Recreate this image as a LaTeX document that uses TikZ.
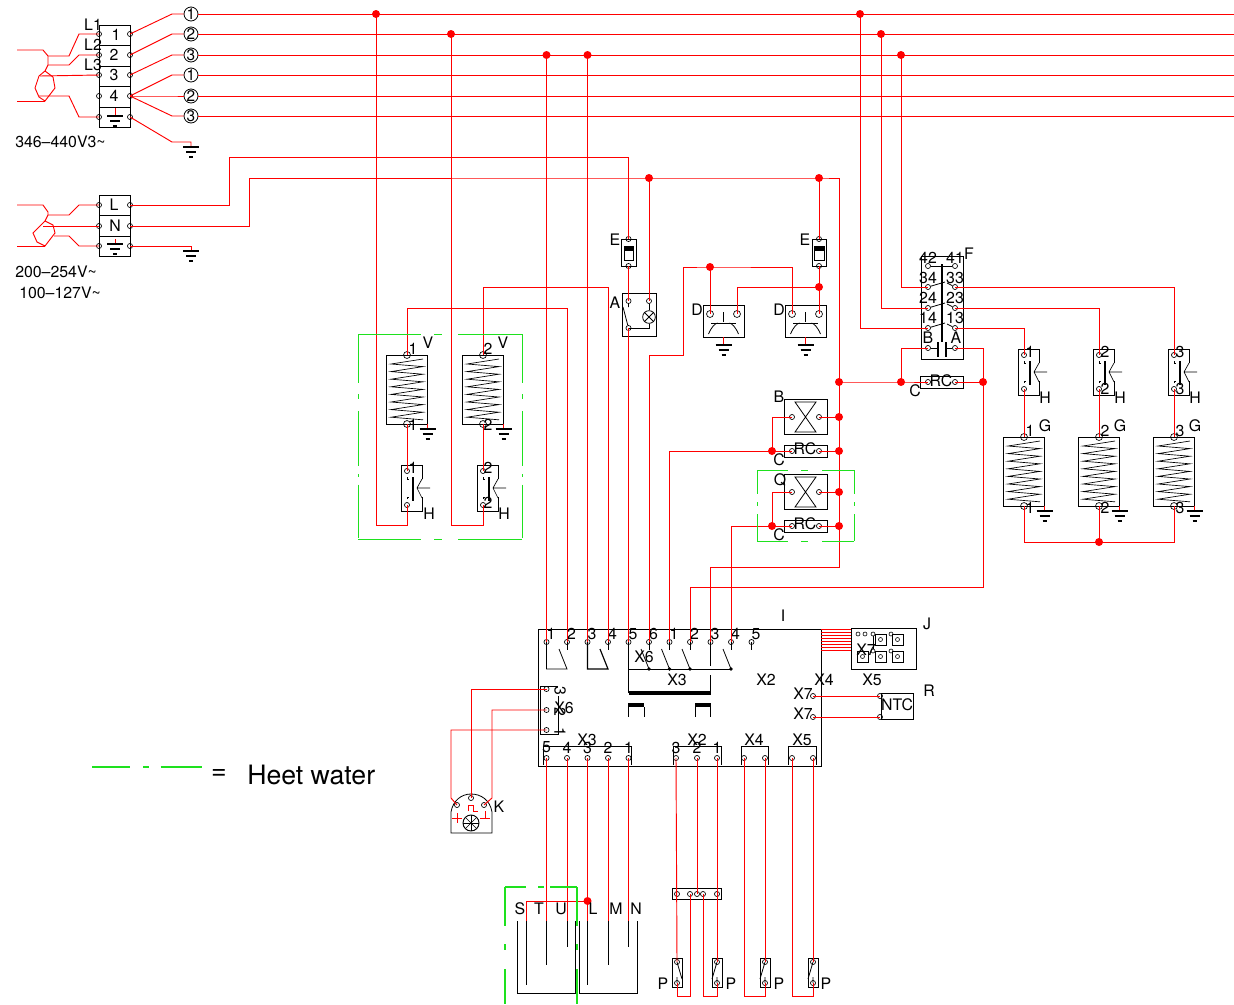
\documentclass[tikz,border=0pt]{standalone}
\usepackage{fontspec}
\setmainfont{TeX Gyre Heros}
\definecolor{greenwire}{RGB}{30,225,30}

\tikzset{
    wire/.style={red, line width=0.7pt},
    greenline/.style={draw=greenwire, line width=0.75pt},
    greenheavy/.style={draw=greenwire, line width=0.8pt},
    lbl/.style={inner sep=0pt, font=\fontsize{11.9}{13}\selectfont},
    termpin/.style={circle, draw, line width=0.5pt, inner sep=0pt, minimum size=3.8pt},
    bigpin/.style={circle, draw, line width=0.5pt, inner sep=0pt, minimum size=5.2pt},
    junct/.style={circle, fill=red, inner sep=0pt, minimum size=6pt},
    phase/.style={circle, draw, line width=0.6pt, inner sep=0pt, minimum size=10.5pt, font=\fontsize{11.5}{12}\selectfont},
    earth/.pic={
        \draw[line width=0.9pt] (-8,0) -- (8,0) (-5,5) -- (5,5) (-2,10) -- (2,10);
    },
    coil/.pic={
        \node[bigpin] (-top) at (0,0) {};
        \node[bigpin] (-bot) at (0,69) {};
        \draw[line width=0.6pt] (-20.5,0) rectangle (20.5,69);
        \draw[line width=0.5pt] (16,4) \foreach \k in {0,...,7} { -- (-16,{4+7.6*\k+5}) -- (16,{4+7.6*\k+7.6}) };
        \draw[wire] (20.5,69) -- (20.5,74);
        \pic at (20.5,74) {earth};
    },
    hcontact/.pic={
        \node[termpin] (-top) at (0,0) {};
        \node[termpin] (-bot) at (0,34) {};
        \draw[line width=0.6pt] (15.5,8) -- (15.5,-6) -- (-5.5,-6) -- (-5.5,40) -- (15.5,40) -- (15.5,26);
        \draw[line width=1.6pt] (6,6) -- (6,30);
        \draw[line width=0.5pt] (0,6) -- (0,8) -- (2,8) (0,28) -- (0,26) -- (2,26);
        \draw[line width=0.5pt] (15,8) -- (10,17) -- (15,27) (10,17) -- (23,17);
    },
    fuse/.pic={
        \node[termpin] (-top) at (0,0) {};
        \node[termpin] (-bot) at (0,27) {};
        \draw[line width=0.6pt] (-7,0) rectangle (7.5,27);
        \draw[line width=0.6pt] (-4.5,7) rectangle (5,21);
        \fill (-4.5,7) rectangle (5,12);
    },
    bell/.pic={
        \node[bigpin] (-lft) at (-13.5,9) {};
        \node[bigpin] (-rgt) at (13.5,9) {};
        \draw[line width=0.6pt] (-20.5,0) rectangle (20.5,32);
        \draw[line width=0.6pt] (0,7) -- (0,17) (-12.5,18) -- (12.5,18);
        \draw[line width=0.6pt] (-15,29) .. controls (-12,22) and (-9,19) .. (-6,18) (15,29) .. controls (12,22) and (9,19) .. (6,18);
        \draw[wire] (0,32) -- (0,40);
        \pic at (0,40) {earth};
    },
    hourglass/.pic={
        \node[termpin] (-lft) at (-13.5,0) {};
        \node[termpin] (-rgt) at (13.5,0) {};
        \draw[line width=0.6pt] (-21.5,-17.5) rectangle (21.5,17.5);
        \draw[line width=0.6pt] (-10.5,-15) -- (10.5,-15) -- (-10.5,15) -- (10.5,15) -- cycle;
    },
    rcbox/.pic={
        \node[termpin] (-lft) at (-13.5,0) {};
        \node[termpin] (-rgt) at (13.5,0) {};
        \draw[line width=0.6pt] (-21.5,-6) rectangle (21.5,6);
    },
    pswitch/.pic={
        \node[termpin] (-top) at (0,0) {};
        \node[termpin] (-bot) at (0,21) {};
        \draw[line width=0.6pt] (-5,-4) rectangle (5,25);
        \draw[line width=0.6pt] (0,0) -- (5,17) (0,21) -- (0,15);
    },
}

\begin{document}
\begin{tikzpicture}[x=0.75pt, y=-0.75pt]
\useasboundingbox (0,0) rectangle (1234,1004);

% mains blocks
\draw[line width=0.6pt] (99,25) rectangle (130,127);
\foreach \py in {45.5,66,86,107} {
    \draw[line width=0.6pt] (99,\py) -- (130,\py);
}
\draw[line width=0.6pt] (99,195) rectangle (130,256);
\foreach \py in {215.5,236} {
    \draw[line width=0.6pt] (99,\py) -- (130,\py);
}
\foreach \k/\py in {1/34,2/55,3/75,4/96,5/117} {
    \node[termpin] (tL\k) at (99,\py) {};
    \node[termpin] (tR\k) at (130,\py) {};
}
\foreach \k/\py in {1/205,2/226,3/246} {
    \node[termpin] (uL\k) at (99,\py) {};
    \node[termpin] (uR\k) at (130,\py) {};
}
\foreach \k/\py/\txt in {1/14/1,2/34/2,3/55/3,4/75/1,5/96/2,6/116/3} {
    \node[phase] (ph\k) at (191,\py) {\txt};
    \coordinate (end\k) at (1234,\py);
    \draw[wire] (ph\k) -- (end\k);
}
\draw[wire] (tR1.center) -- (172,14) -- (ph1);
\draw[wire] (tR2.center) -- (172,34) -- (ph2);
\draw[wire] (tR3.center) -- (172,55) -- (ph3);
\draw[wire] (tR4.center) -- (172,75) -- (ph4);
\draw[wire] (tR4.center) -- (172,96) -- (ph5);
\draw[wire] (tR4.center) -- (172,116) -- (ph6);

\coordinate (gndA) at (191,147);
\coordinate (gndB) at (191,251);
\coordinate (gndC) at (115,116);
\coordinate (gndD) at (115,244);
\draw[wire] (tR5.center) -- (172,142) -- (191,142) -- (gndA);
\draw[wire] (uR3.center) -- (191,246) -- (gndB);
\draw[wire] (115,108) -- (gndC);
\draw[wire] (115,239) -- (gndD);
\foreach \g in {gndA,gndB,gndC,gndD} {
    \pic at (\g) {earth};
}

% feed on the left
\coordinate (inA) at (17,50);
\coordinate (inB) at (17,101);
\coordinate (inC) at (17,205);
\coordinate (inD) at (17,246);
\draw[wire] (inA) -- (43,50) -- (48,56) -- (48,65) -- (45,71) -- (53,77) -- (55,88) -- (45,101) -- (39,97) -- (35,88) -- (39,76) -- (45,71);
\draw[wire] (inB) -- (45,101);
\draw[wire] (48,56) -- (69,56) -- (79,34) -- (tL1.center);
\draw[wire] (48,65) -- (69,65) -- (79,55) -- (tL2.center);
\draw[wire] (40,76) -- (tL3.center);
\draw[wire] (39,96) -- (69,96) -- (79,117) -- (tL5.center);
\draw[wire] (inC) -- (43,205) -- (48,212) -- (48,215) -- (45,221) -- (53,225) -- (55,233) -- (45,246) -- (37,242) -- (33,233) -- (43,223) -- (45,221);
\draw[wire] (inD) -- (45,246);
\draw[wire] (48,215) -- (69,215) -- (79,205) -- (uL1.center);
\draw[wire] (43,226) -- (uL2.center);
\draw[wire] (54,236) -- (69,236) -- (79,246) -- (uL3.center);

% components
\pic (coilA) at (407,355) {coil};
\pic (coilB) at (483,355) {coil};
\pic (coilC) at (1024,437) {coil};
\pic (coilD) at (1099,437) {coil};
\pic (coilE) at (1174,437) {coil};
\pic (hA) at (407,471) {hcontact};
\pic (hB) at (483,471) {hcontact};
\pic (hC) at (1024,355) {hcontact};
\pic (hD) at (1099,355) {hcontact};
\pic (hE) at (1174,355) {hcontact};
\pic (fuseA) at (628.5,239) {fuse};
\pic (fuseB) at (819,239) {fuse};
\pic (bellA) at (723.5,305) {bell};
\pic (bellB) at (805.5,305) {bell};
\pic (glassA) at (805.5,417) {hourglass};
\pic (glassB) at (805.5,492) {hourglass};
\pic (rcA) at (805.5,451) {rcbox};
\pic (rcB) at (805.5,526) {rcbox};
\pic (rcC) at (941.5,382) {rcbox};

% lamp switch
\draw[line width=0.6pt] (622,293) rectangle (656,336);
\node[termpin] (swA) at (628.5,301) {};
\node[termpin] (swB) at (649,301) {};
\node[termpin] (swC) at (628.5,328) {};
\node[circle, draw, line width=0.6pt, inner sep=0pt, minimum size=9.5pt] (lamp) at (649,317) {};
\draw[line width=0.6pt] (lamp.north west) -- (lamp.south east) (lamp.north east) -- (lamp.south west);
\draw[line width=0.6pt] (swC.center) -- (649,328) -- (lamp);
\draw[line width=0.6pt] (swB) -- (lamp);
\draw[line width=0.6pt] (swA) -- (628.5,307) (623,307) -- (swC);

% relay
\draw[line width=0.6pt] (921,256) rectangle (963,359);
\foreach \k/\py in {1/266,2/287,3/308,4/328,5/348} {
    \node[termpin] (rL\k) at (928,\py) {};
    \node[termpin] (rR\k) at (955,\py) {};
}
\draw[line width=1.3pt] (942,264) -- (942,342);
\draw[line width=0.5pt] (rL1) -- (rR1);
\foreach \k in {2,3,4} {
    \draw[line width=0.6pt] (rL\k) -- ++(17,-5);
    \draw[line width=0.6pt] (rR\k) -- ++(-8,-4);
}
\draw[line width=1.3pt] (938,342) -- (938,357) (946,342) -- (946,357);
\draw[line width=0.6pt] (rL5) -- (938,348) (946,348) -- (rR5);

% main board
\draw[line width=0.7pt] (538,629) rectangle (821,766);
\foreach \nm/\px/\txt in {a1/546.5/1,a2/567/2,a3/587.5/3,a4/608/4,a5/628.5/5,a6/649/6,b1/669.5/1,b2/690/2,b3/710.5/3,b4/731/4,b5/751.5/5} {
    \node[termpin] (\nm) at (\px,642) {};
    \node[lbl] (lab\nm) at ({\px+4.5},634) {\txt};
}
\foreach \px in {567,608,649,669.5,690,731,751.5} {
    \draw[line width=0.6pt] (\px,642) -- (\px,650);
}
\draw[line width=0.6pt] (a1.center) -- (546.5,669) -- (567,669) -- (559,649);
\draw[line width=0.9pt] (a3.center) -- (587.5,669) -- (608,669) -- (600,649);
\draw[line width=0.9pt] (a5.center) -- (628.5,693);
\draw[line width=0.6pt] (628.5,669) -- (731,669);
\foreach \px in {649,669.5,690,731} {
    \fill (\px,669) circle (1.8);
    \draw[line width=0.6pt] ({\px-8},649) -- (\px,669);
}
\draw[line width=0.6pt] (b3.center) -- (710.5,666) (710.5,675) -- (710.5,693);
\fill (628.5,691) rectangle (710.5,695);
\fill (628,703) rectangle (644,707);
\fill (695,703) rectangle (710.5,707);
\draw[line width=0.6pt] (628,707) -- (628,717) (644,707) -- (644,717) (695,707) -- (695,717) (710.5,707) -- (710.5,717);

% side connector
\draw[line width=0.6pt] (558,686) -- (540,686) -- (540,734) -- (558,734) -- (558,696);
\foreach \k/\py/\txt in {1/689/3,2/710/2,3/730/1} {
    \node[termpin] (s\k) at (546.5,\py) {};
    \node[lbl, rotate=-90] (labs\k) at (560,{\py+2}) {\txt};
}

% lower connectors
\draw[line width=0.6pt] (543,765) -- (543,746) -- (631,746) -- (631,765);
\draw[line width=0.6pt] (673,765) -- (673,746) -- (721,746) -- (721,765);
\draw[line width=0.6pt] (741,765) -- (741,746) -- (768,746) -- (768,765);
\draw[line width=0.6pt] (788,765) -- (788,746) -- (816,746) -- (816,765);
\foreach \nm/\px/\txt in {c5/546.5/5,c4/567/4,c3/587.5/3,c2/608/2,c1/628.5/1,d3/676/3,d2/697/2,d1/717/1} {
    \node[termpin] (\nm) at (\px,758) {};
    \node[lbl] (lab\nm) at (\px,747.5) {\txt};
}
\foreach \nm/\px in {e1/744,e2/765,f1/792,f2/813} {
    \node[termpin] (\nm) at (\px,758) {};
}

% J connector
\draw[line width=0.6pt] (851,628) rectangle (916,669);
\foreach \k in {0,1,...,7} {
    \draw[wire, line width=0.5pt] (821,{629+3*\k}) -- (851,{629+3*\k});
}
\foreach \nm/\px/\py in {ja/875/634,jb/892/634,jc/875/651,jd/892/651,je/857/651} {
    \draw[line width=0.6pt] (\px,\py) rectangle ({\px+11},{\py+11});
    \node[circle, draw, line width=0.45pt, inner sep=0pt, minimum size=3pt] (\nm) at ({\px+5.5},{\py+5.5}) {};
}
\foreach \nm/\px/\py in {ka/858/634,kb/865/634,kc/873/634,kd/891/634,ke/873/651,kf/891/651} {
    \node[circle, draw, line width=0.45pt, inner sep=0pt, minimum size=3pt] (\nm) at (\px,\py) {};
}
\draw[line width=0.45pt] (kc) -- (ke);

% NTC
\draw[line width=0.6pt] (881,693) rectangle (913,719);
\node[termpin] (ntcA) at (880,696) {};
\node[termpin] (ntcB) at (880,717) {};
\node[termpin] (xA) at (813,696) {};
\node[termpin] (xB) at (813,717) {};
\draw[wire] (xA.center) -- (ntcA.center);
\draw[wire] (xB.center) -- (ntcB.center);

% K sensor
\draw[line width=0.6pt] (451,833) -- (451,812) .. controls (453,800) and (462,794) .. (471,794) .. controls (481,794) and (490,800) .. (492,812) -- (492,833) -- cycle;
\node[termpin] (kA) at (457,805) {};
\node[termpin] (kB) at (471,798) {};
\node[termpin] (kC) at (484,805) {};
\node[circle, draw, line width=0.7pt, inner sep=0pt, minimum size=12pt] (fan) at (471,823) {};
\foreach \a in {0,45,...,315} {
    \draw[line width=0.45pt] (fan.center) -- ++(\a:8);
}
\draw[wire] (452,818) -- (462,818) (457,813) -- (457,823);
\draw[wire] (468,811) -- (468,805) -- (473,805) -- (473,811) -- (478,811);
\draw[wire] (480,818) -- (490,818) (485,811) -- (485,818);
\draw[wire] (s1.center) -- (471,689) -- (kB.center);
\draw[wire] (s2.center) -- (492,710) -- (492,798) -- (kC.center);
\draw[wire] (s3.center) -- (451,730) -- (451,798) -- (kA.center);

% tanks
\draw[line width=0.6pt] (517,921) -- (517,993) -- (575,993) -- (575,921);
\draw[line width=0.6pt] (579,921) -- (579,993) -- (637,993) -- (637,921);
\foreach \nm/\px/\py in {S/526/985,T/546.5/965,U/567/947,L/587.5/985,M/608/965,N/628.5/947} {
    \coordinate (el\nm) at (\px,921);
    \draw[line width=0.6pt] (el\nm) -- (\px,\py);
}
\node[junct] (jS) at (587.5,901) {};
\draw[wire] (jS.center) -| (elS);
\draw[wire] (c5.center) -- (elT);
\draw[wire] (c4.center) -- (elU);
\draw[wire] (c3.center) -- (elL);
\draw[wire] (c2.center) -- (elM);
\draw[wire] (c1.center) -- (elN);

% pump switches
\draw[line width=0.6pt] (672,888) rectangle (721,899);
\foreach \nm/\px in {g1/677,g2/690,g3/697,g4/703,g5/717} {
    \node[termpin] (\nm) at (\px,894) {};
}
\pic (pA) at (677,962) {pswitch};
\pic[xscale=-1] (pB) at (717,962) {pswitch};
\pic[xscale=-1] (pC) at (765,962) {pswitch};
\pic[xscale=-1] (pD) at (813,962) {pswitch};
\draw[wire] (d3.center) -- (pA-top.center);
\draw[wire] (pA-bot.center) -- (677,996) -- (690,996) -- (g2.center);
\draw[wire] (d2.center) -- (g3.center);
\draw[wire] (d1.center) -- (pB-top.center);
\draw[wire] (pB-bot.center) -- (717,996) -- (703,996) -- (g4.center);
\draw[wire] (e1.center) -- (744,996) -- (765,996) -- (pC-bot.center);
\draw[wire] (e2.center) -- (pC-top.center);
\draw[wire] (f1.center) -- (792,996) -- (813,996) -- (pD-bot.center);
\draw[wire] (f2.center) -- (pD-top.center);

% risers and junctions
\foreach \nm/\px/\py in {jA/376/14,jB/451/34,jC/546.5/55,jD/587.5/55,jE/860/14,jF/881/34,jG/901/55,jH/649/178,jI/819/178,jJ/839/382,jK/839/417,jL/839/451,jM/839/492,jN/839/526,jP/710/267,jQ/819/287,jR/772/451,jT/772/526,jU/901/382,jV/983/382,jW/1099/542} {
    \node[junct] (\nm) at (\px,\py) {};
}
\draw[wire] (jA.center) -- (376,525) -- (407,525) -- (hA-bot.center);
\draw[wire] (jB.center) -- (451,525) -- (483,525) -- (hB-bot.center);
\draw[wire] (jC.center) -- (a1.center);
\draw[wire] (jD.center) -- (a3.center);
\draw[wire] (coilA-top.center) -- (407,308) -- (567,308) -- (a2.center);
\draw[wire] (coilB-top.center) -- (483,287) -- (608,287) -- (a4.center);
\draw[wire] (coilA-bot.center) -- (hA-top.center);
\draw[wire] (coilB-bot.center) -- (hB-top.center);

\draw[wire] (uR1.center) -- (229,205) -- (229,157) -- (628.5,157) -- (fuseA-top.center);
\draw[wire] (fuseA-bot.center) -- (swA.center);
\draw[wire] (swC.center) -- (a5.center);
\draw[wire] (uR2.center) -- (249,226) -- (249,178) -- (jH.center) -- (jI.center) -- (839,178) -- (839,567) -- (710.5,567) -- (b3.center);
\draw[wire] (jH.center) -- (swB.center);
\draw[wire] (jI.center) -- (fuseB-top.center);
\draw[wire] (fuseB-bot.center) -- (bellB-rgt.center);
\draw[wire] (a6.center) -- (649,355) -- (683,355) -- (683,267) -- (jP.center) -- (792,267) -- (bellB-lft.center);
\draw[wire] (jP.center) -- (bellA-lft.center);
\draw[wire] (bellA-rgt.center) -- (737,287) -- (jQ.center);

\draw[wire] (glassA-rgt.center) -- (jK.center);
\draw[wire] (glassA-lft.center) -- (772,417) -- (jR.center);
\draw[wire] (b1.center) -- (669.5,451) -- (jR.center) -- (rcA-lft.center);
\draw[wire] (rcA-rgt.center) -- (jL.center);
\draw[wire] (glassB-rgt.center) -- (jM.center);
\draw[wire] (glassB-lft.center) -- (772,492) -- (jT.center);
\draw[wire] (b4.center) -- (731,526) -- (jT.center) -- (rcB-lft.center);
\draw[wire] (rcB-rgt.center) -- (jN.center);

\draw[wire] (jE.center) -- (860,328) -- (rL4.center);
\draw[wire] (jF.center) -- (881,308) -- (rL3.center);
\draw[wire] (jG.center) -- (901,287) -- (rL2.center);
\draw[wire] (rR2.center) -- (1174,287) -- (hE-top.center);
\draw[wire] (rR3.center) -- (1099,308) -- (hD-top.center);
\draw[wire] (rR4.center) -- (1024,328) -- (hC-top.center);
\draw[wire] (rL5.center) -- (901,348) -- (jU.center);
\draw[wire] (rR5.center) -- (983,348) -- (jV.center) -- (983,587) -- (690,587) -- (b2.center);
\draw[wire] (jJ.center) -- (jU.center) -- (rcC-lft.center);
\draw[wire] (rcC-rgt.center) -- (jV.center);
\draw[wire] (hC-bot.center) -- (coilC-top.center);
\draw[wire] (hD-bot.center) -- (coilD-top.center);
\draw[wire] (hE-bot.center) -- (coilE-top.center);
\draw[wire] (coilC-bot.center) -- (1024,542) -- (jW.center) -- (1174,542) -- (coilE-bot.center);
\draw[wire] (coilD-bot.center) -- (jW.center);

% green outlines
\coordinate (vNW) at (358,334);
\coordinate (vNE) at (522,334);
\coordinate (vSW) at (358,539);
\coordinate (vSE) at (522,539);
\draw[greenline, dash pattern=on 47pt off 10pt on 6pt off 12pt on 50pt] (vNW) -- (vNE);
\draw[greenline, dash pattern=on 47pt off 10pt on 6pt off 12pt on 50pt] (vSW) -- (vSE);
\draw[greenline, dash pattern=on 37pt off 8pt on 4pt off 9pt on 41pt off 6pt on 2pt off 6pt on 40pt] (vNW) -- (vSW);
\draw[greenline, dash pattern=on 37pt off 8pt on 4pt off 9pt on 41pt off 6pt on 2pt off 6pt on 40pt] (vNE) -- (vSE);
\coordinate (qNW) at (757,470);
\coordinate (qNE) at (854,470);
\coordinate (qSW) at (757,541);
\coordinate (qSE) at (854,541);
\draw[greenline, dash pattern=on 23pt off 10pt on 5pt off 11pt on 24pt] (qNW) -- (qNE);
\draw[greenline, dash pattern=on 23pt off 10pt on 5pt off 11pt on 24pt] (qSW) -- (qSE);
\draw[greenline, dash pattern=on 18pt off 6pt on 3pt off 6pt on 21pt] (qNW) -- (qSW);
\draw[greenline, dash pattern=on 18pt off 6pt on 3pt off 6pt on 21pt] (qNE) -- (qSE);
\coordinate (wNW) at (505,887);
\coordinate (wNE) at (577,887);
\coordinate (wSW) at (505,1004);
\coordinate (wSE) at (577,1004);
\draw[greenheavy, dash pattern=on 16pt off 9pt on 4pt off 5pt on 20pt] (wNW) -- (wNE);
\draw[greenheavy, dash pattern=on 29pt off 14pt on 4.5pt off 14pt on 30pt] (wNW) -- (wSW);
\draw[greenheavy, dash pattern=on 29pt off 14pt on 4.5pt off 14pt on 30pt] (wNE) -- (wSE);
\coordinate (legA) at (92,767);
\coordinate (legB) at (202,767);
\draw[greenheavy, dash pattern=on 28.5pt off 10pt on 4pt off 9pt on 31.5pt] (legA) -- (legB);

% labels
\foreach \nm/\px/\py/\txt in {ln1/116/35/1,ln2/114/55/2,ln3/114/75/3,ln4/114/96/4,nL1/93/25/L1,nL2/93/45/L2,nL3/93/65/L3,uL/114/205/L,uN/115/226/N,
    vA/428/343/V,vB/503/343/V,vna/413/349/1,vnb/488/349/2,vnc/413/425/1,vnd/488/425/2,
    hla/429/514/H,hlb/504/514/H,hna/413/468/1,hnb/488/468/2,hnc/488/503/2,
    ea/615/240/E,eb/805/240/E,aa/615/303/A,da/697/310/D,db/779/310/D,ba/779/397/B,qa/780/480/Q,
    ca/779/460/C,cb/779/535/C,cc/915/391/C,rca/805/449/RC,rcb/805/524/RC,rcc/941/381/RC,
    fa/969/254/F,r42/928/258/42,r41/955/258/41,r34/928/278/34,r33/955/278/33,r24/928/298/24,r23/955/298/23,r14/928/318/14,r13/955/318/13,rB/928/338/B,rA/956/338/A,
    gna/1030/431/1,gnb/1105/431/2,gnc/1180/431/3,gnd/1030/508/1,gne/1105/508/2,gnf/1180/508/3,gA/1045/426/G,gB/1120/426/G,gC/1195/426/G,
    hnd/1030/352/1,hne/1105/352/2,hnf/1180/352/3,hng/1105/389/2,hnh/1180/389/3,hlc/1045/398/H,hld/1120/398/H,hle/1195/398/H,
    iA/783/616/I,jA2/927/624/J,rR/929/691/R,kK/499/807/K,
    xa/644/657/X6,xb/677/680/X3,xc/766/680/X2,xd/824/680/X4,xe/872/680/X5,xf/866/650/X7,xg/803/694/X7,xh/803/714/X7,xi/564/708/X6,xj/587/740/X3,xk/697/740/X2,xl/754/740/X4,xm/802/740/X5,
    ntc/897/705/NTC,
    tS/520/909/S,tT/539/909/T,tU/561/909/U,tL/593/909/L,tM/616/909/M,tN/636/909/N,
    pa/663/984/P,pb/731/984/P,pc/779/984/P,pd/826/984/P} {
    \node[lbl] (lab\nm) at (\px,\py) {\txt};
}
\node[lbl, anchor=west] (labA) at (15,142) {346–440V3\textasciitilde};
\node[lbl, anchor=west] (labB) at (15,272) {200–254V\textasciitilde};
\node[lbl, anchor=west] (labC) at (19,293) {100–127V\textasciitilde};
\node[inner sep=0pt, font=\fontsize{20}{22}\selectfont] (labD) at (219,774) {=};
\node[inner sep=0pt, anchor=west, font=\fontsize{20}{22}\selectfont] (labE) at (247,775) {Heet water};

\end{tikzpicture}
\end{document}
